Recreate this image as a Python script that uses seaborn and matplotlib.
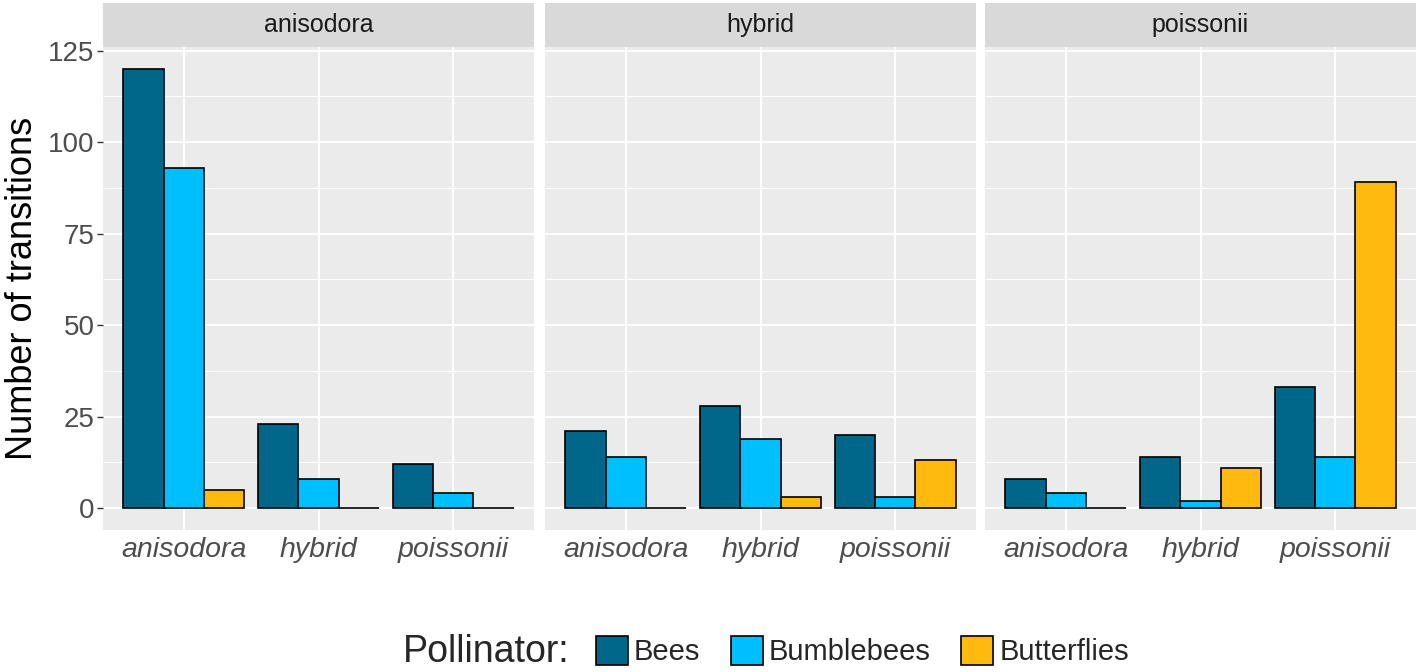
import numpy as np
import pandas as pd
import matplotlib
matplotlib.use("Agg")
import matplotlib.pyplot as plt
import seaborn as sns
from matplotlib.patches import Rectangle, Patch

panels = ["anisodora", "hybrid", "poissonii"]
categories = ["anisodora", "hybrid", "poissonii"]
pollinators = ["Bees", "Bumblebees", "Butterflies"]

# values[panel][category] = [Bees, Bumblebees, Butterflies]
anisodora_vals = {"anisodora": [120, 93, 5], "hybrid": [23, 8, 0], "poissonii": [12, 4, 0]}
hybrid_vals = {"anisodora": [21, 14, 0], "hybrid": [28, 19, 3], "poissonii": [20, 3, 13]}
poissonii_vals = {"anisodora": [8, 4, 0], "hybrid": [14, 2, 11], "poissonii": [33, 14, 89]}
panel_values = {"anisodora": anisodora_vals, "hybrid": hybrid_vals, "poissonii": poissonii_vals}

colors = ["#00668a", "#00bfff", "#ffb90f"]
y_ticks = [0, 25, 50, 75, 100, 125]

rows = []
for p in panels:
    for c in categories:
        for pol, v in zip(pollinators, panel_values[p][c]):
            rows.append({"panel": p, "category": c, "Pollinator": pol, "value": v})
df = pd.DataFrame(rows)

sns.set_theme(style="darkgrid")
plt.rcParams['font.family'] = ['Liberation Sans', 'DejaVu Sans']

fig = plt.figure(figsize=(14.18, 6.72), dpi=100)
W, H = 1418, 672
top_px, bot_px = 47, 530
lefts = [103, 545, 985]
pw = 431
palette = dict(zip(pollinators, colors))

for i, p in enumerate(panels):
    ax = fig.add_axes([lefts[i] / W, 1 - bot_px / H, pw / W, (bot_px - top_px) / H])
    ax.set_facecolor("#ebebeb")
    sub = df[df.panel == p]
    sns.barplot(data=sub, x="category", y="value", hue="Pollinator", order=categories,
                hue_order=pollinators, palette=palette, ax=ax, width=0.9,
                edgecolor="black", linewidth=1.2, saturation=1, legend=False, zorder=3)
    ax.set_xlim(-0.6, 2.6)
    ax.set_ylim(-6, 126)
    ax.set_yticks(y_ticks)
    ax.set_yticks([12.5, 37.5, 62.5, 87.5, 112.5], minor=True)
    ax.grid(which="major", color="white", linewidth=1.4, zorder=0)
    ax.grid(which="minor", axis="y", color="white", linewidth=0.7, zorder=0)
    ax.set_axisbelow(True)
    for s in ax.spines.values():
        s.set_visible(False)
    ax.set_xlabel("")
    ax.set_ylabel("")
    ax.tick_params(axis="x", labelsize=20.5, colors="#4d4d4d", pad=5, length=0)
    for lab in ax.get_xticklabels():
        lab.set_fontstyle("italic")
        lab.set_color("#4d4d4d")
    if i == 0:
        ax.tick_params(axis="y", labelsize=20, labelcolor="#4d4d4d", length=4,
                       color="#333333", width=1, left=True, pad=2)
        ax.set_ylabel("Number of transitions", fontsize=26, color="black", labelpad=6)
    else:
        ax.tick_params(axis="y", labelleft=False, length=0)
    # strip
    strip = Rectangle((0, 1), 1, 44 / (bot_px - top_px), transform=ax.transAxes,
                      facecolor="#d9d9d9", edgecolor="none", clip_on=False)
    ax.add_patch(strip)
    ax.text(0.5, 1 + 22 / (bot_px - top_px), p, transform=ax.transAxes,
            ha="center", va="center", fontsize=18, color="#1a1a1a")

handles = [Patch(facecolor=c, edgecolor="black", linewidth=1.2, label=l)
           for c, l in zip(colors, pollinators)]
fig.text(403 / W, 1 - 652 / H, "Pollinator:", fontsize=27, ha="left", va="center")
leg = fig.legend(handles=handles, loc="center left", bbox_to_anchor=(596 / W, 1 - 651 / H),
                 ncol=3, frameon=False, fontsize=21, handlelength=1.1, handleheight=1.15,
                 handletextpad=0.2, columnspacing=1.05, borderaxespad=0, borderpad=0)

fig.savefig("out.png", dpi=100)
